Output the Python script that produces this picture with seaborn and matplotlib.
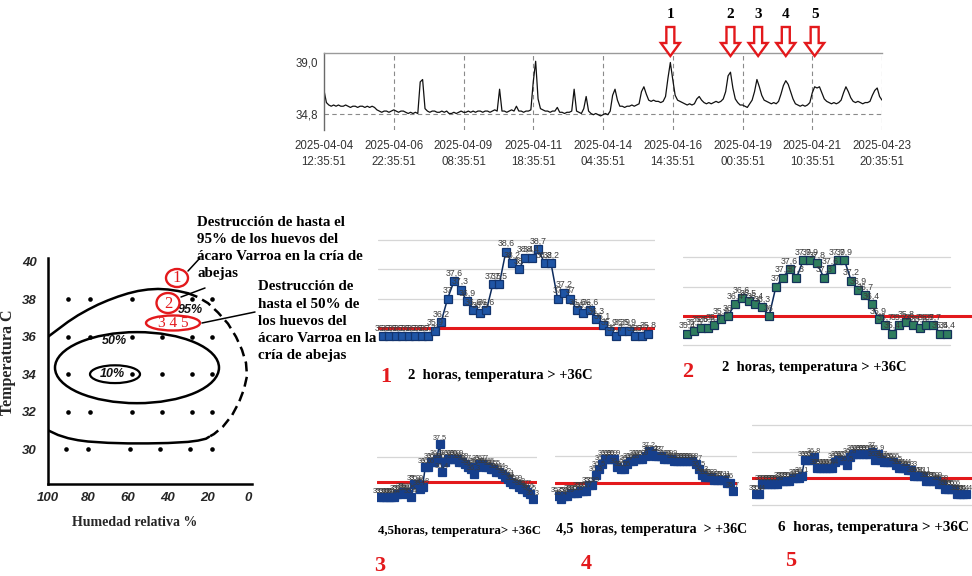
import numpy as np
import matplotlib
matplotlib.use("Agg")
import matplotlib.pyplot as plt
import matplotlib.transforms as mtransforms
from matplotlib.patches import Ellipse, FancyArrow
import seaborn as sns

sns.set_style("white")
plt.rcParams["font.family"] = ["Liberation Sans", "DejaVu Sans"]
plt.rcParams["axes.unicode_minus"] = False

W, H = 972, 576
SERIF = ["Liberation Serif", "DejaVu Serif"]
RED = "#e3191c"

# ------------------------------------------------------------------ data
# hive temperature, one reading every 2 hours from 2025-04-04 12:35:51
top_temps = [
    36.7, 35.7, 35.5, 35.4, 35.5, 35.4, 35.5, 35.4, 35.4, 35.5, 35.4, 35.3, 35.4, 35.4, 35.3, 35.4,
    35.4, 35.3, 35.4, 35.3, 35.4, 35.3,
    35.1, 35.0, 34.9, 35.0, 35.0, 34.9, 35.0, 35.1, 35.0, 34.9, 35.0, 35.0, 34.9, 34.8, 34.9, 34.8,
    34.9, 34.8,
    37.4, 37.6, 35.2, 35.0,
    34.9, 35.0, 35.0, 34.9, 34.9, 35.0, 34.9, 35.0, 34.8, 34.8, 34.9, 34.8, 34.9, 35.0, 34.9, 34.9,
    35.0, 34.9, 35.0, 34.9, 35.0, 35.0, 34.9, 35.0, 35.0, 34.9, 35.0, 35.1, 35.0,
    36.8, 35.0,
    35.0, 34.9, 35.0, 35.1, 35.0,
    35.4, 35.0,
    35.0, 34.9, 35.0, 35.0, 35.1,
    37.4, 39.1, 36.0, 35.2,
    35.1, 35.0, 35.0, 34.9, 35.0, 35.0,
    35.3, 34.9,
    34.9, 34.8, 34.9, 34.9, 35.0,
    36.8, 35.0, 34.9, 34.8, 35.2, 36.2, 35.0,
    34.8, 34.7, 34.8, 34.7, 34.6, 34.7, 34.8, 34.7,
    35.0, 36.3, 36.8, 35.9, 35.4,
    35.4, 35.3, 35.4, 35.4, 35.5, 35.4, 35.5, 35.6,
    36.6, 37.0, 36.4, 35.9,
    35.8, 35.9, 35.8, 35.8, 35.7, 35.8,
    36.2, 37.7, 39.0, 37.6, 36.3,
    35.9, 35.8, 35.7, 35.6, 35.5, 35.6, 35.5, 35.6,
    36.0, 36.2, 35.9, 35.7,
    35.6, 35.7, 35.6, 35.7, 35.8, 35.7, 35.8, 36.0,
    36.6, 37.9, 38.2, 36.9, 36.0, 35.7,
    35.5, 35.5, 35.4, 35.3, 35.6, 35.9,
    36.6, 37.6, 37.0, 36.3, 35.9, 35.8,
    35.7, 35.6, 35.7, 35.6, 35.8,
    36.4, 37.1, 37.5, 37.2, 36.6, 36.0, 35.6,
    35.5, 35.4, 35.5, 35.4, 35.5, 35.7,
    36.5, 37.0, 36.9, 37.0, 36.5, 36.0, 35.8,
    35.7, 35.6, 35.7, 35.6, 35.7, 35.9,
    36.5, 37.0, 36.6, 36.1, 35.8,
    35.7, 35.8, 35.7, 35.6, 35.7, 35.7, 35.8,
    36.3, 36.7, 36.9, 36.2, 35.9,
]
top_hours = np.arange(len(top_temps)) * 2
top_tick_hours = [0, 58, 116, 174, 232, 290, 348, 406, 464]
top_tick_labels = ["2025-04-04\n12:35:51", "2025-04-06\n22:35:51", "2025-04-09\n08:35:51",
                   "2025-04-11\n18:35:51", "2025-04-14\n04:35:51", "2025-04-16\n14:35:51",
                   "2025-04-19\n00:35:51", "2025-04-21\n10:35:51", "2025-04-23\n20:35:51"]
top_ytick_values = [34.8, 39.0]
top_ytick_labels = ["34,8", "39,0"]
event_hours = [288, 338, 361, 384, 408]
event_labels = ["1", "2", "3", "4", "5"]

# Panel B: egg mortality vs humidity / temperature
hum_ticks = [100, 80, 60, 40, 20, 0]
temp_ticks = [30, 32, 34, 36, 38, 40]
dot_hum = [90, 79, 58, 28, 18,
           90, 79, 58, 43, 28, 18,
           90, 58, 43, 28, 18,
           90, 79, 58, 43, 28, 18,
           91, 80, 59, 44, 29, 18]
dot_temp = [38, 38, 38, 38, 38,
            36, 36, 36, 36, 36, 36,
            34, 34, 34, 34, 34,
            32, 32, 32, 32, 32, 32,
            30, 30, 30, 30, 30, 30]
outer_top_hum = [100, 95, 90, 85, 80, 75, 70, 65, 60, 55, 50, 45, 40, 35, 30]
outer_top_temp = [36.0, 36.4, 36.8, 37.15, 37.45, 37.72, 37.95, 38.15, 38.32, 38.45, 38.53, 38.56,
                  38.53, 38.45, 38.33]
outer_dash_hum = [30, 25, 20, 15, 10, 6, 3, 1.0, 0.5, 2.0, 4.5, 8, 12.5, 17, 19.5]
outer_dash_temp = [38.33, 38.12, 37.8, 37.3, 36.7, 36.0, 35.3, 34.6, 33.9, 33.2, 32.5, 31.8, 31.2,
                   30.8, 30.65]
outer_bot_hum = [100, 95, 90, 85, 80, 70, 60, 50, 40, 30, 25, 21, 19.5]
outer_bot_temp = [31.0, 30.75, 30.58, 30.47, 30.4, 30.33, 30.3, 30.3, 30.32, 30.38, 30.45, 30.55,
                  30.65]
zone50_center = (55.5, 34.35)
zone50_size = (82, 3.8)
zone10_center = (66.5, 34.0)
zone10_size = (25, 0.95)
zone_labels = ["95%", "50%", "10%"]
zone_label_hum = [29, 67, 68]
zone_label_temp = [37.45, 35.75, 34.0]

# five hive episodes
threshold = 36.0
chart1 = [35.7, 35.7, 35.7, 35.7, 35.7, 35.7, 35.7, 35.7, 35.9, 36.2, 37.0, 37.6, 37.3, 36.9,
          36.6, 36.5, 36.6, 37.5, 37.5, 38.6, 38.2, 38.0, 38.4, 38.4, 38.7, 38.2, 38.2, 37.0,
          37.2, 37.0, 36.6, 36.5, 36.6, 36.3, 36.1, 35.9, 35.7, 35.9, 35.9, 35.7, 35.7, 35.8]
chart2 = [35.4, 35.5, 35.6, 35.6, 35.7, 35.9, 36.0, 36.4, 36.6, 36.5, 36.4, 36.3, 36.0, 37.0,
          37.3, 37.6, 37.3, 37.9, 37.9, 37.8, 37.3, 37.6, 37.9, 37.9, 37.2, 36.9, 36.7, 36.4,
          35.9, 35.7, 35.4, 35.7, 35.8, 35.7, 35.6, 35.7, 35.7, 35.4, 35.4]
chart3 = [35.4, 35.4, 35.4, 35.4, 35.4, 35.4, 35.5, 35.5, 35.6, 35.6, 35.5, 35.4,
          35.9, 35.9, 35.7, 35.8, 36.6, 36.6, 36.8, 36.8, 36.9, 37.5,
          36.4, 36.8, 36.9, 36.9, 36.9, 36.9, 36.8, 36.8, 36.7, 36.6, 36.5, 36.3,
          36.6, 36.7, 36.7, 36.6, 36.6, 36.5, 36.5, 36.4, 36.4, 36.3, 36.2, 36.1,
          36.0, 35.9, 35.9, 35.8, 35.7, 35.7, 35.6, 35.5, 35.3]
chart4 = [35.5, 35.4, 35.5, 35.5, 35.6, 35.6, 35.6, 35.7, 35.7, 35.7, 35.9, 35.9, 36.3, 36.5,
          36.7, 36.9, 36.9, 36.9, 36.9, 36.6, 36.5, 36.5, 36.7, 36.8, 36.8, 36.9, 36.9, 36.9,
          37.0, 37.2, 37.1, 37.0, 37.0, 37.0, 36.9, 36.9, 36.9, 36.8, 36.8, 36.8, 36.8, 36.8,
          36.8, 36.8, 36.7, 36.5, 36.3, 36.2, 36.2, 36.2, 36.1, 36.1, 36.1, 36.1, 36.0, 36.0,
          35.7]
chart5 = [35.4, 35.4, 35.8, 35.8, 35.8, 35.8, 35.8, 35.8, 35.9, 35.9, 35.9, 35.9, 36.0, 36.0,
          36.0, 36.1, 36.7, 36.7, 36.7, 36.8, 36.4, 36.4, 36.4, 36.4, 36.4, 36.4, 36.6, 36.7,
          36.7, 36.7, 36.5, 36.8, 36.9, 36.9, 36.9, 36.9, 36.9, 36.9, 37.0, 36.7, 36.9, 36.7,
          36.6, 36.6, 36.6, 36.6, 36.5, 36.4, 36.4, 36.4, 36.3, 36.3, 36.1, 36.1, 36.1, 36.1,
          35.9, 35.9, 35.9, 35.9, 35.8, 35.8, 35.6, 35.6, 35.6, 35.6, 35.4, 35.4, 35.4, 35.4]
chart_numbers = ["1", "2", "3", "4", "5"]
chart_titles = ["2  horas, temperatura > +36C", "2  horas, temperatura > +36C",
                "4,5horas, temperatura> +36C", "4,5  horas, temperatura  > +36C",
                "6  horas, temperatura > +36C"]

text_95 = ["Destrucción de hasta el", "95% de los huevos del",
           "ácaro Varroa en la cría de", "abejas"]
text_50 = ["Destrucción de", "hasta el 50% de", "los huevos del",
           "ácaro Varroa en la", "cría de abejas"]

# ------------------------------------------------------------------ figure
fig = plt.figure(figsize=(W / 100, H / 100), dpi=100)
fig.patch.set_facecolor("white")


def rect(l, t, r, b):
    return [l / W, 1 - b / H, (r - l) / W, (b - t) / H]


def fmt(v):
    s = f"{v:.1f}".replace(".", ",")
    return s[:-2] if s.endswith(",0") else s


# ---------------- top time series
TL, TT, TR, TB = 324, 53, 882, 130
ax_top = fig.add_axes(rect(TL, TT, TR, TB))
sns.lineplot(x=top_hours, y=top_temps, ax=ax_top, color="#111111", lw=0.9)
ax_top.set_xlim(top_tick_hours[0], top_tick_hours[-1])
y39, y348 = 62.5, 113.5
ppd = (y348 - y39) / (39.0 - 34.8)
ax_top.set_ylim(34.8 - (TB - y348) / ppd, 39.0 + (y39 - TT) / ppd)
for hx in top_tick_hours[1:]:
    ax_top.axvline(hx, color="#8a8a8a", lw=0.8, ls=(0, (4, 3)), zorder=0)
ax_top.axhline(34.8, color="#8a8a8a", lw=0.8, ls=(0, (4, 3)), zorder=0)
ax_top.set_xticks(top_tick_hours)
ax_top.set_xticklabels(top_tick_labels)
ax_top.set_yticks(top_ytick_values)
ax_top.set_yticklabels(top_ytick_labels)
ax_top.tick_params(axis="x", length=0, pad=7, labelsize=8.3, labelcolor="#333333")
ax_top.tick_params(axis="y", length=0, pad=4, labelsize=8.3, labelcolor="#333333")
for t in ax_top.get_xticklabels():
    t.set_linespacing(1.45)
for side in ["bottom", "right"]:
    ax_top.spines[side].set_visible(False)
ax_top.spines["top"].set_color("#9a9a9a")
ax_top.spines["left"].set_color("#6a6a6a")
ax_top.spines["top"].set_linewidth(1.0)
ax_top.spines["left"].set_linewidth(1.0)
ax_top.set_xlabel("")
ax_top.set_ylabel("")

# ---------------- panel B
BL, BT, BR, BB = 48, 258, 252, 484
ax_b = fig.add_axes(rect(BL, BT, BR, BB))
ax_b.set_xlim(100, -2)
ax_b.set_ylim(30 - (BB - 449) / 18.7, 40 + (262 - BT) / 18.7)
sns.scatterplot(x=dot_hum, y=dot_temp, ax=ax_b, color="black", s=11, edgecolor="black",
                linewidth=0, zorder=3)
ax_b.plot(outer_top_hum, outer_top_temp, color="black", lw=1.8, solid_capstyle="round")
ax_b.plot(outer_dash_hum, outer_dash_temp, color="black", lw=1.8, ls=(0, (4, 2.2)))
ax_b.plot(outer_bot_hum, outer_bot_temp, color="black", lw=1.8)
ax_b.add_patch(Ellipse(zone50_center, zone50_size[0], zone50_size[1], fill=False, lw=1.8,
                       ec="black"))
ax_b.add_patch(Ellipse(zone10_center, zone10_size[0], zone10_size[1], fill=False, lw=1.6,
                       ec="black"))
for lab, hx, ty in zip(zone_labels, zone_label_hum, zone_label_temp):
    ax_b.text(hx, ty, lab, ha="center", va="center", fontsize=9, fontstyle="italic",
              fontweight="bold", color="#111111", family=["Liberation Sans", "DejaVu Sans"])
ax_b.set_xticks(hum_ticks)
ax_b.set_xticks(np.linspace(100, 0, 15), minor=True)
ax_b.set_yticks(temp_ticks)
ax_b.set_xticklabels([str(v) for v in hum_ticks])
ax_b.set_yticklabels([str(v) for v in temp_ticks])
ax_b.tick_params(axis="x", which="major", length=0, pad=6)
ax_b.tick_params(axis="x", which="minor", direction="in", length=5, width=1.3)
ax_b.tick_params(axis="y", direction="out", length=5, width=1.5, pad=3)
for t in ax_b.get_xticklabels() + ax_b.get_yticklabels():
    t.set_fontstyle("italic")
    t.set_fontweight("bold")
    t.set_fontsize(9.5)
for side in ["top", "right"]:
    ax_b.spines[side].set_visible(False)
for side in ["left", "bottom"]:
    ax_b.spines[side].set_color("black")
    ax_b.spines[side].set_linewidth(1.8)
ax_b.set_xlabel("Humedad relativa %", family=SERIF, fontweight="bold", fontsize=10)
ax_b.set_ylabel("Temperatura C", family=SERIF, fontweight="bold", fontsize=11.5)
ax_b.xaxis.set_label_coords((135 - BL) / (BR - BL), (BB - 516) / (BB - BT))
ax_b.yaxis.set_label_coords((16 - BL) / (BR - BL), (BB - 362) / (BB - BT))
ax_b.grid(False)


# ---------------- small charts
def small_chart(box, values, first_px, last_px, y36, ppdeg, grids, grid_frac, face, edge, msize,
                lab_size, lab_off):
    l, t, r, b = box
    ax = fig.add_axes(rect(l, t, r, b))
    n = len(values)
    idx = np.arange(n)
    step = (last_px - first_px) / (n - 1)
    ax.set_xlim(-(first_px - l) / step, (n - 1) + (r - last_px) / step)
    ax.set_ylim(threshold - (b - y36) / ppdeg, threshold + (y36 - t) / ppdeg)
    for g in grids:
        ax.axhline(g, xmin=grid_frac[0], xmax=grid_frac[1], color="#d6d6d6", lw=0.9, zorder=0)
    ax.axhline(threshold, color=RED, lw=2.2, zorder=1)
    sns.lineplot(x=idx, y=values, ax=ax, color="#0d2b5c", lw=1.1, marker="s",
                 markersize=msize, markerfacecolor=face, markeredgecolor=edge,
                 markeredgewidth=0.9, zorder=3)
    for i, v in enumerate(values):
        ax.annotate(fmt(v), (i, v), xytext=(0, lab_off), textcoords="offset points",
                    ha="center", va="bottom", fontsize=lab_size, color="#3c3c3c", zorder=4,
                    family=["Liberation Sans Narrow", "Liberation Sans", "DejaVu Sans"])
    ax.axis("off")
    return ax


small_chart((378, 232, 655, 345), chart1, 383, 648, 327.7, 29.2, [37, 38, 39], (0, 1),
            "#1f55a5", "#12346e", 5.2, 6.3, 2.5)
small_chart((683, 240, 972, 350), chart2, 687, 947, 316, 29.4, [35, 37, 38], (0, 0.924),
            "#2f7d5e", "#14315a", 5.2, 6.3, 2.5)
small_chart((377, 425, 537, 505), chart3, 380, 533, 481.7, 25.0, [37], (0, 1),
            "#163f8c", "#163f8c", 5.5, 5.2, 2.0)
small_chart((555, 425, 737, 505), chart4, 558, 733, 482.7, 26.7, [37], (0, 1),
            "#163f8c", "#163f8c", 5.5, 5.2, 2.0)
small_chart((752, 420, 972, 510), chart5, 756, 966, 478.3, 26.7, [35, 37, 38], (0, 1),
            "#163f8c", "#163f8c", 5.5, 5.2, 2.0)

# ---------------- overlay (annotations, titles)
ov = fig.add_axes([0, 0, 1, 1])
ov.set_xlim(0, W)
ov.set_ylim(H, 0)
ov.axis("off")

blend = mtransforms.blended_transform_factory(ax_top.transData, ov.transData)
hpp = (top_tick_hours[-1] - top_tick_hours[0]) / (TR - TL)
for hx, lab in zip(event_hours, event_labels):
    ov.add_patch(FancyArrow(hx, 27, 0, 29, width=8 * hpp, head_width=19 * hpp, head_length=13,
                            length_includes_head=True, transform=blend, fc="white", ec=RED,
                            lw=1.7, zorder=5))
    ov.text(hx, 15, lab, transform=blend, ha="center", va="center", fontsize=11,
            fontweight="bold", family=SERIF, color="black")

# panel B explanatory texts
for i, line in enumerate(text_95):
    ov.text(197, 222 + 17.3 * i, line, ha="left", va="center", fontsize=10.8,
            fontweight="bold", family=SERIF, color="black")
for i, line in enumerate(text_50):
    ov.text(258, 287 + 17.2 * i, line, ha="left", va="center", fontsize=10.8,
            fontweight="bold", family=SERIF, color="black")
ov.add_patch(Ellipse((177, 278), 22, 18, fill=False, ec=RED, lw=1.7))
ov.add_patch(Ellipse((168, 303), 23, 20, fill=False, ec=RED, lw=1.7))
ov.add_patch(Ellipse((173, 323), 54, 15, fill=False, ec=RED, lw=1.7))
ov.text(177, 278.5, "1", ha="center", va="center", fontsize=12, family=SERIF, color=RED)
ov.text(168, 303.5, "2", ha="center", va="center", fontsize=12, family=SERIF, color=RED)
ov.text(173, 323.5, "3 4 5", ha="center", va="center", fontsize=11, family=SERIF, color=RED)
ov.plot([200, 188], [258, 271], color="black", lw=1.1)
ov.plot([181, 205], [297, 288], color="black", lw=1.1)
ov.plot([202, 255], [323, 312], color="black", lw=1.1)

# small chart titles
title_pos = [(408, 376), (722, 367), (378, 531), (556, 530), (778, 528)]
title_size = [10.5, 10.5, 9.3, 10.1, 10.9]
number_pos = [(386, 377), (688, 372), (380, 566), (586, 564), (791, 561)]
for (tx, ty), fs, (nx, ny), title, num in zip(title_pos, title_size, number_pos, chart_titles,
                                              chart_numbers):
    ov.text(tx, ty, title, ha="left", va="center", fontsize=fs, fontweight="bold",
            family=SERIF, color="black")
    ov.text(nx, ny, num, ha="center", va="center", fontsize=16, fontweight="bold",
            family=SERIF, color=RED)

fig.savefig("out.png", dpi=100, facecolor="white")
